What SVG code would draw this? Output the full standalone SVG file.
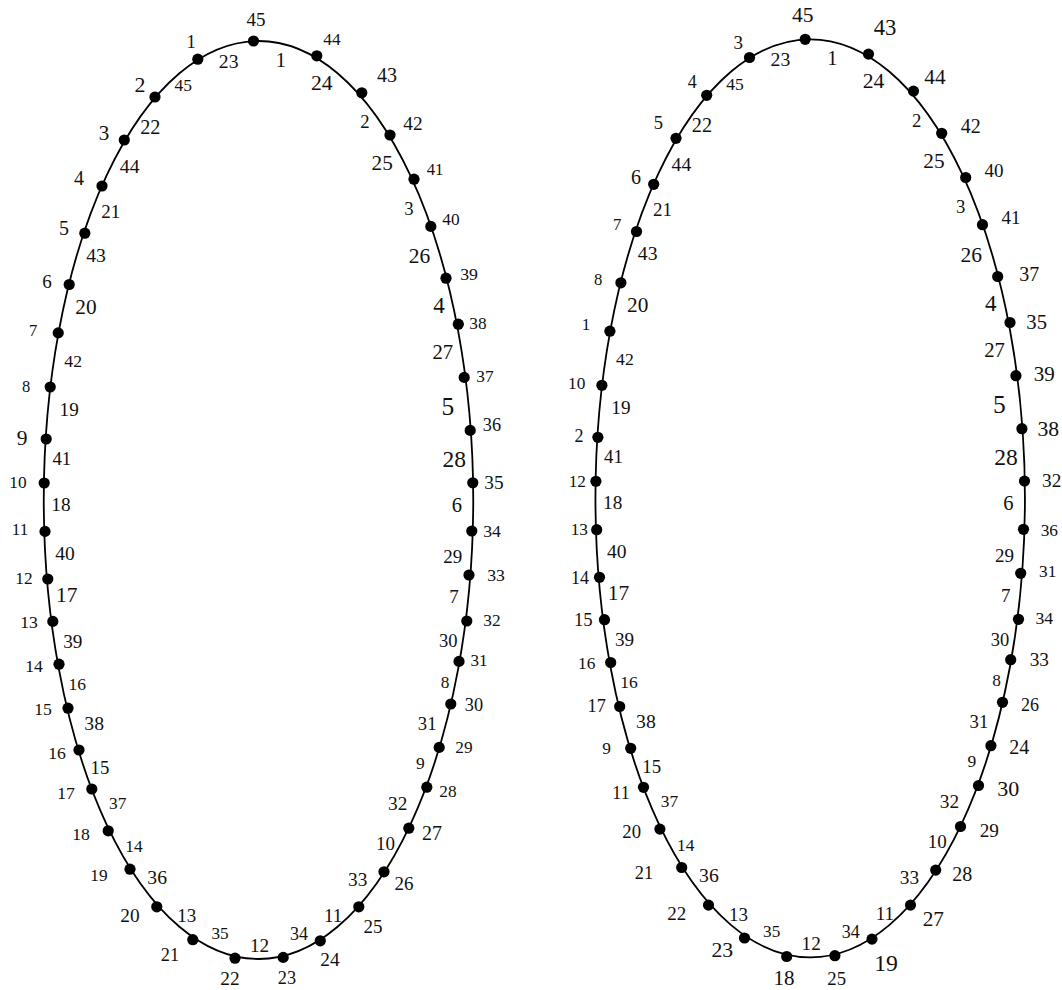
<svg xmlns="http://www.w3.org/2000/svg" width="1062" height="990" viewBox="0 0 1062 990" font-family="'Liberation Serif', 'DejaVu Serif', serif">
<style>
.e{fill:none;stroke:#000;stroke-width:1.8}
.d{fill:#000}
text{font-family:"Liberation Serif","DejaVu Serif",serif;fill:#111;text-anchor:middle;dominant-baseline:central}
</style>
<rect width="1062" height="990" fill="#fff"/>
<g id="left">
<g id="left-connectors"><ellipse class="e" cx="258.5" cy="500" rx="214.75" ry="459"/></g>
<g id="left-edge-labels">
<text x="228.7" y="60.5" font-size="19.7">23</text>
<text x="183.2" y="85.3" font-size="17.5">45</text>
<text x="150.3" y="127.2" font-size="20.3">22</text>
<text x="129.7" y="165.8" font-size="19.7">44</text>
<text x="110.8" y="211.5" font-size="19">21</text>
<text x="96" y="255" font-size="19.7">43</text>
<text x="86" y="306.8" font-size="21.3">20</text>
<text x="73.2" y="360.8" font-size="17.7">42</text>
<text x="69.2" y="409.7" font-size="19.2">19</text>
<text x="61.8" y="458.2" font-size="18.8">41</text>
<text x="61" y="504.2" font-size="19.3">18</text>
<text x="65" y="553.2" font-size="19.5">40</text>
<text x="66.8" y="594.7" font-size="21.5">17</text>
<text x="72.8" y="641" font-size="19.2">39</text>
<text x="77.2" y="684.2" font-size="17.5">16</text>
<text x="94.2" y="722.7" font-size="19.7">38</text>
<text x="100" y="767.8" font-size="18.8">15</text>
<text x="117.7" y="803.5" font-size="17.3">37</text>
<text x="134" y="846.8" font-size="17.3">14</text>
<text x="157.2" y="876.8" font-size="19.7">36</text>
<text x="186.8" y="915.8" font-size="19">13</text>
<text x="220" y="933.7" font-size="17.2">35</text>
<text x="259.5" y="945" font-size="19.2">12</text>
<text x="299" y="933.5" font-size="18">34</text>
<text x="333.2" y="915" font-size="19">11</text>
<text x="357.7" y="879" font-size="19.3">33</text>
<text x="385.5" y="843.2" font-size="19">10</text>
<text x="397.7" y="803.2" font-size="19.3">32</text>
<text x="420.3" y="762.7" font-size="17.5">9</text>
<text x="427.2" y="723.2" font-size="18.7">31</text>
<text x="445" y="682.2" font-size="17.3">8</text>
<text x="448.3" y="641.3" font-size="18.5">30</text>
<text x="454" y="596.8" font-size="19">7</text>
<text x="452.7" y="556.8" font-size="19">29</text>
<text x="456.8" y="505" font-size="20.5">6</text>
<text x="454.2" y="458.7" font-size="23.5">28</text>
<text x="447.8" y="406.3" font-size="25.5">5</text>
<text x="442.8" y="351.5" font-size="20.7">27</text>
<text x="439" y="305" font-size="23">4</text>
<text x="419.5" y="256.3" font-size="21.5">26</text>
<text x="409" y="208.2" font-size="18.7">3</text>
<text x="382.2" y="162.7" font-size="21.3">25</text>
<text x="365" y="121.8" font-size="18.7">2</text>
<text x="321.8" y="83.2" font-size="21.7">24</text>
<text x="280.7" y="60" font-size="20.3">1</text>
</g>
<g id="a45"><circle class="d" cx="253.5" cy="41" r="5.6"/><text x="256" y="19" font-size="19">45</text></g>
<g id="a1"><circle class="d" cx="197.8" cy="59.2" r="5.6"/><text x="191" y="42" font-size="18.5">1</text></g>
<g id="a2"><circle class="d" cx="155" cy="97" r="5.6"/><text x="140" y="84" font-size="22">2</text></g>
<g id="a3"><circle class="d" cx="124.3" cy="140" r="5.6"/><text x="104" y="133" font-size="21">3</text></g>
<g id="a4"><circle class="d" cx="102" cy="186" r="5.6"/><text x="79" y="178" font-size="20">4</text></g>
<g id="a5"><circle class="d" cx="84.8" cy="233.2" r="5.6"/><text x="64" y="228" font-size="20">5</text></g>
<g id="a6"><circle class="d" cx="69.2" cy="284.5" r="5.6"/><text x="47" y="281" font-size="19">6</text></g>
<g id="a7"><circle class="d" cx="58.2" cy="332.9" r="5.6"/><text x="33" y="330" font-size="16.5">7</text></g>
<g id="a8"><circle class="d" cx="50.2" cy="387" r="5.6"/><text x="26" y="386" font-size="16.5">8</text></g>
<g id="a9"><circle class="d" cx="46.2" cy="439" r="5.6"/><text x="22" y="438" font-size="21.5">9</text></g>
<g id="a10"><circle class="d" cx="44.2" cy="483" r="5.6"/><text x="18" y="482" font-size="17.3">10</text></g>
<g id="a11"><circle class="d" cx="45" cy="531.4" r="5.6"/><text x="20" y="529" font-size="17">11</text></g>
<g id="a12"><circle class="d" cx="47.8" cy="579" r="5.6"/><text x="24" y="578" font-size="17.3">12</text></g>
<g id="a13"><circle class="d" cx="52.8" cy="621.4" r="5.6"/><text x="29" y="622" font-size="17.7">13</text></g>
<g id="a14"><circle class="d" cx="59" cy="664.2" r="5.6"/><text x="34" y="666" font-size="17.7">14</text></g>
<g id="a15"><circle class="d" cx="68" cy="708.2" r="5.6"/><text x="43" y="709" font-size="17.7">15</text></g>
<g id="a16"><circle class="d" cx="79" cy="750" r="5.6"/><text x="57" y="753" font-size="17.7">16</text></g>
<g id="a17"><circle class="d" cx="91.8" cy="789" r="5.6"/><text x="66" y="793" font-size="17.7">17</text></g>
<g id="a18"><circle class="d" cx="108.2" cy="830.8" r="5.6"/><text x="81" y="834" font-size="17.7">18</text></g>
<g id="a19"><circle class="d" cx="130" cy="869.2" r="5.6"/><text x="99" y="875" font-size="17.3">19</text></g>
<g id="a20"><circle class="d" cx="156.8" cy="906.8" r="5.6"/><text x="130" y="915" font-size="19.3">20</text></g>
<g id="a21"><circle class="d" cx="192.8" cy="939.7" r="5.6"/><text x="170" y="955" font-size="18.3">21</text></g>
<g id="a22"><circle class="d" cx="235" cy="958.2" r="5.6"/><text x="230" y="978" font-size="19.3">22</text></g>
<g id="a23"><circle class="d" cx="283.2" cy="957.4" r="5.6"/><text x="287" y="978" font-size="18.3">23</text></g>
<g id="a24"><circle class="d" cx="320.3" cy="940.8" r="5.6"/><text x="330" y="959" font-size="19.3">24</text></g>
<g id="a25"><circle class="d" cx="358.8" cy="906.8" r="5.6"/><text x="373" y="926" font-size="19">25</text></g>
<g id="a26"><circle class="d" cx="384" cy="871.8" r="5.6"/><text x="404" y="883" font-size="19">26</text></g>
<g id="a27"><circle class="d" cx="408.8" cy="828.2" r="5.6"/><text x="432" y="833" font-size="20">27</text></g>
<g id="a28"><circle class="d" cx="426.8" cy="787.2" r="5.6"/><text x="448" y="791" font-size="17.3">28</text></g>
<g id="a29"><circle class="d" cx="439.2" cy="747.4" r="5.6"/><text x="464" y="747" font-size="17.3">29</text></g>
<g id="a30"><circle class="d" cx="450.8" cy="704" r="5.6"/><text x="474" y="705" font-size="18.3">30</text></g>
<g id="a31"><circle class="d" cx="459" cy="661.4" r="5.6"/><text x="479" y="660" font-size="17">31</text></g>
<g id="a32"><circle class="d" cx="466.8" cy="621" r="5.6"/><text x="492" y="620" font-size="17.3">32</text></g>
<g id="a33"><circle class="d" cx="469" cy="575" r="5.6"/><text x="496" y="575" font-size="17.7">33</text></g>
<g id="a34"><circle class="d" cx="471.8" cy="531" r="5.6"/><text x="492" y="531" font-size="17.7">34</text></g>
<g id="a35"><circle class="d" cx="472.8" cy="482.8" r="5.6"/><text x="494" y="482" font-size="19.3">35</text></g>
<g id="a36"><circle class="d" cx="470.2" cy="430.4" r="5.6"/><text x="492" y="425" font-size="18.3">36</text></g>
<g id="a37"><circle class="d" cx="464.2" cy="377.4" r="5.6"/><text x="485" y="376" font-size="17.3">37</text></g>
<g id="a38"><circle class="d" cx="458.3" cy="324.2" r="5.6"/><text x="478" y="323" font-size="17.3">38</text></g>
<g id="a39"><circle class="d" cx="446" cy="278.2" r="5.6"/><text x="469" y="274" font-size="17.7">39</text></g>
<g id="a40"><circle class="d" cx="430.8" cy="226.4" r="5.6"/><text x="451" y="219" font-size="17.3">40</text></g>
<g id="a41"><circle class="d" cx="414" cy="179.2" r="5.6"/><text x="435" y="169" font-size="16.7">41</text></g>
<g id="a42"><circle class="d" cx="390" cy="135" r="5.6"/><text x="413" y="123" font-size="19.3">42</text></g>
<g id="a43"><circle class="d" cx="361.8" cy="92.8" r="5.6"/><text x="387" y="75" font-size="20">43</text></g>
<g id="a44"><circle class="d" cx="316.8" cy="55.8" r="5.6"/><text x="332" y="39" font-size="17.3">44</text></g>
</g>
<g id="right" transform="translate(551.7,-1.7)">
<g id="right-connectors"><ellipse class="e" cx="258.5" cy="500" rx="214.75" ry="459"/></g>
<g id="right-edge-labels">
<text x="228.7" y="60.5" font-size="19.7">23</text>
<text x="183.2" y="85.3" font-size="17.5">45</text>
<text x="150.3" y="127.2" font-size="20.3">22</text>
<text x="129.7" y="165.8" font-size="19.7">44</text>
<text x="110.8" y="211.5" font-size="19">21</text>
<text x="96" y="255" font-size="19.7">43</text>
<text x="86" y="306.8" font-size="21.3">20</text>
<text x="73.2" y="360.8" font-size="17.7">42</text>
<text x="69.2" y="409.7" font-size="19.2">19</text>
<text x="61.8" y="458.2" font-size="18.8">41</text>
<text x="61" y="504.2" font-size="19.3">18</text>
<text x="65" y="553.2" font-size="19.5">40</text>
<text x="66.8" y="594.7" font-size="21.5">17</text>
<text x="72.8" y="641" font-size="19.2">39</text>
<text x="77.2" y="684.2" font-size="17.5">16</text>
<text x="94.2" y="722.7" font-size="19.7">38</text>
<text x="100" y="767.8" font-size="18.8">15</text>
<text x="117.7" y="803.5" font-size="17.3">37</text>
<text x="134" y="846.8" font-size="17.3">14</text>
<text x="157.2" y="876.8" font-size="19.7">36</text>
<text x="186.8" y="915.8" font-size="19">13</text>
<text x="220" y="933.7" font-size="17.2">35</text>
<text x="259.5" y="945" font-size="19.2">12</text>
<text x="299" y="933.5" font-size="18">34</text>
<text x="333.2" y="915" font-size="19">11</text>
<text x="357.7" y="879" font-size="19.3">33</text>
<text x="385.5" y="843.2" font-size="19">10</text>
<text x="397.7" y="803.2" font-size="19.3">32</text>
<text x="420.3" y="762.7" font-size="17.5">9</text>
<text x="427.2" y="723.2" font-size="18.7">31</text>
<text x="445" y="682.2" font-size="17.3">8</text>
<text x="448.3" y="641.3" font-size="18.5">30</text>
<text x="454" y="596.8" font-size="19">7</text>
<text x="452.7" y="556.8" font-size="19">29</text>
<text x="456.8" y="505" font-size="20.5">6</text>
<text x="454.2" y="458.7" font-size="23.5">28</text>
<text x="447.8" y="406.3" font-size="25.5">5</text>
<text x="442.8" y="351.5" font-size="20.7">27</text>
<text x="439" y="305" font-size="23">4</text>
<text x="419.5" y="256.3" font-size="21.5">26</text>
<text x="409" y="208.2" font-size="18.7">3</text>
<text x="382.2" y="162.7" font-size="21.3">25</text>
<text x="365" y="121.8" font-size="18.7">2</text>
<text x="321.8" y="83.2" font-size="21.7">24</text>
<text x="280.7" y="60" font-size="20.3">1</text>
</g>
<g id="b45"><circle class="d" cx="253.5" cy="41" r="5.6"/><text x="251" y="16.7" font-size="21.5">45</text></g>
<g id="b1"><circle class="d" cx="197.8" cy="59.2" r="5.6"/><text x="186.6" y="44.4" font-size="19">3</text></g>
<g id="b2"><circle class="d" cx="155" cy="97" r="5.6"/><text x="140.6" y="83.4" font-size="18">4</text></g>
<g id="b3"><circle class="d" cx="124.3" cy="140" r="5.6"/><text x="106.6" y="125" font-size="18.5">5</text></g>
<g id="b4"><circle class="d" cx="102" cy="186" r="5.6"/><text x="84.3" y="178.4" font-size="20">6</text></g>
<g id="b5"><circle class="d" cx="84.8" cy="233.2" r="5.6"/><text x="65.6" y="226.7" font-size="16.7">7</text></g>
<g id="b6"><circle class="d" cx="69.2" cy="284.5" r="5.6"/><text x="46.6" y="281" font-size="16.7">8</text></g>
<g id="b7"><circle class="d" cx="58.2" cy="332.9" r="5.6"/><text x="34.3" y="326.7" font-size="17">1</text></g>
<g id="b8"><circle class="d" cx="50.2" cy="387" r="5.6"/><text x="25" y="385" font-size="17.3">10</text></g>
<g id="b9"><circle class="d" cx="46.2" cy="439" r="5.6"/><text x="27.3" y="437.4" font-size="18">2</text></g>
<g id="b10"><circle class="d" cx="44.2" cy="483" r="5.6"/><text x="25.6" y="483" font-size="17.3">12</text></g>
<g id="b11"><circle class="d" cx="45" cy="531.4" r="5.6"/><text x="27.6" y="531.7" font-size="17.3">13</text></g>
<g id="b12"><circle class="d" cx="47.8" cy="579" r="5.6"/><text x="28.3" y="580" font-size="18">14</text></g>
<g id="b13"><circle class="d" cx="52.8" cy="621.4" r="5.6"/><text x="31.6" y="621.7" font-size="18.7">15</text></g>
<g id="b14"><circle class="d" cx="59" cy="664.2" r="5.6"/><text x="35" y="665.7" font-size="17.3">16</text></g>
<g id="b15"><circle class="d" cx="68" cy="708.2" r="5.6"/><text x="45" y="707.4" font-size="18.3">17</text></g>
<g id="b16"><circle class="d" cx="79" cy="750" r="5.6"/><text x="55" y="750" font-size="17.3">9</text></g>
<g id="b17"><circle class="d" cx="91.8" cy="789" r="5.6"/><text x="69.3" y="795" font-size="18">11</text></g>
<g id="b18"><circle class="d" cx="108.2" cy="830.8" r="5.6"/><text x="80" y="833.4" font-size="18.7">20</text></g>
<g id="b19"><circle class="d" cx="130" cy="869.2" r="5.6"/><text x="92.3" y="875" font-size="18.3">21</text></g>
<g id="b20"><circle class="d" cx="156.8" cy="906.8" r="5.6"/><text x="125" y="915.7" font-size="19">22</text></g>
<g id="b21"><circle class="d" cx="192.8" cy="939.7" r="5.6"/><text x="170.6" y="951.7" font-size="21.7">23</text></g>
<g id="b22"><circle class="d" cx="235" cy="958.2" r="5.6"/><text x="232.3" y="980" font-size="21">18</text></g>
<g id="b23"><circle class="d" cx="283.2" cy="957.4" r="5.6"/><text x="285" y="980" font-size="18.7">25</text></g>
<g id="b24"><circle class="d" cx="320.3" cy="940.8" r="5.6"/><text x="334.3" y="965" font-size="23.7">19</text></g>
<g id="b25"><circle class="d" cx="358.8" cy="906.8" r="5.6"/><text x="381.6" y="920.7" font-size="21.3">27</text></g>
<g id="b26"><circle class="d" cx="384" cy="871.8" r="5.6"/><text x="410.6" y="875.7" font-size="20">28</text></g>
<g id="b27"><circle class="d" cx="408.8" cy="828.2" r="5.6"/><text x="437.6" y="832.4" font-size="19.3">29</text></g>
<g id="b28"><circle class="d" cx="426.8" cy="787.2" r="5.6"/><text x="456.6" y="790" font-size="22">30</text></g>
<g id="b29"><circle class="d" cx="439.2" cy="747.4" r="5.6"/><text x="467.6" y="749" font-size="20">24</text></g>
<g id="b30"><circle class="d" cx="450.8" cy="704" r="5.6"/><text x="478.3" y="706.7" font-size="18">26</text></g>
<g id="b31"><circle class="d" cx="459" cy="661.4" r="5.6"/><text x="487.6" y="661.7" font-size="19.3">33</text></g>
<g id="b32"><circle class="d" cx="466.8" cy="621" r="5.6"/><text x="492.6" y="619.4" font-size="17.7">34</text></g>
<g id="b33"><circle class="d" cx="469" cy="575" r="5.6"/><text x="496" y="573.4" font-size="17.3">31</text></g>
<g id="b34"><circle class="d" cx="471.8" cy="531" r="5.6"/><text x="497.6" y="532.4" font-size="17.3">36</text></g>
<g id="b35"><circle class="d" cx="472.8" cy="482.8" r="5.6"/><text x="500" y="482.7" font-size="19.3">32</text></g>
<g id="b36"><circle class="d" cx="470.2" cy="430.4" r="5.6"/><text x="496.6" y="430.7" font-size="21.7">38</text></g>
<g id="b37"><circle class="d" cx="464.2" cy="377.4" r="5.6"/><text x="492.6" y="376" font-size="21">39</text></g>
<g id="b38"><circle class="d" cx="458.3" cy="324.2" r="5.6"/><text x="485" y="323.4" font-size="20.7">35</text></g>
<g id="b39"><circle class="d" cx="446" cy="278.2" r="5.6"/><text x="477.6" y="275.7" font-size="20">37</text></g>
<g id="b40"><circle class="d" cx="430.8" cy="226.4" r="5.6"/><text x="459.3" y="219.4" font-size="19">41</text></g>
<g id="b41"><circle class="d" cx="414" cy="179.2" r="5.6"/><text x="442.3" y="172.4" font-size="19">40</text></g>
<g id="b42"><circle class="d" cx="390" cy="135" r="5.6"/><text x="419" y="127.4" font-size="20">42</text></g>
<g id="b43"><circle class="d" cx="361.8" cy="92.8" r="5.6"/><text x="383.3" y="78.4" font-size="21.3">44</text></g>
<g id="b44"><circle class="d" cx="316.8" cy="55.8" r="5.6"/><text x="333.3" y="29" font-size="22.7">43</text></g>
</g>
</svg>
